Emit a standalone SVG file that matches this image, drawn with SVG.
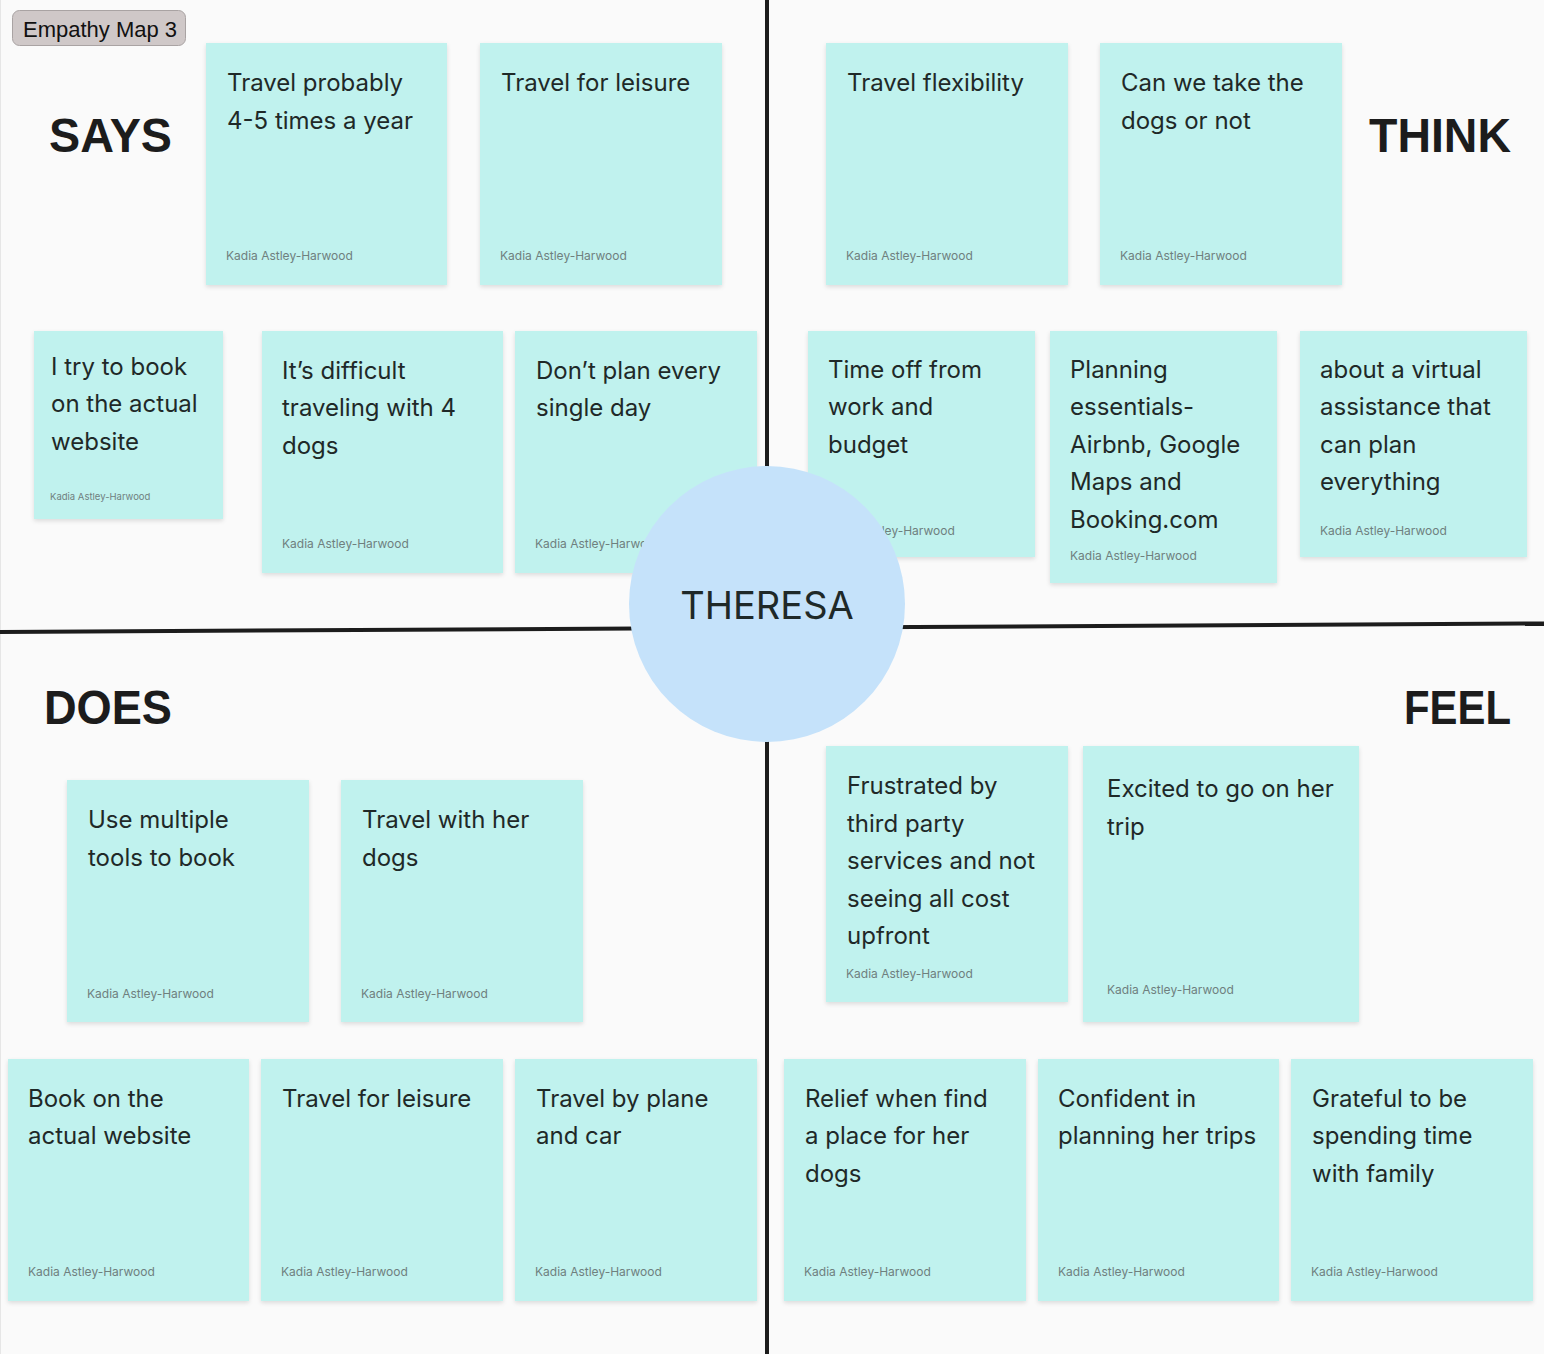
<svg xmlns="http://www.w3.org/2000/svg" width="1544" height="1354" viewBox="0 0 1544 1354">
<style>
.bg{fill:#fafafa}
.note{fill:#c0f2ee;filter:url(#sh)}
.t{font-family:Inter,"Noto Sans",sans-serif;font-size:24px;fill:#1f2928}
.a{font-family:Inter,"Noto Sans",sans-serif;font-size:12px;fill:#6f807e}
.as{font-family:Inter,"Noto Sans",sans-serif;font-size:9.5px;fill:#6f807e}
.h{font-family:"Liberation Sans",Arial,sans-serif;font-size:48px;font-weight:bold;fill:#1c1c1c}
.ln{stroke:#1c1c1c;stroke-width:4;fill:none}
</style>
<defs>
<filter id="sh" x="-5%" y="-5%" width="110%" height="115%">
<feDropShadow dx="0" dy="2" stdDeviation="2" flood-color="#000" flood-opacity="0.12"/>
</filter>
</defs>
<rect class="bg" x="0" y="0" width="1544" height="1354"/>
<line x1="0.5" y1="0" x2="0.5" y2="1354" stroke="#e6e6e6" stroke-width="1"/>
<g id="connectors">
<line class="ln" x1="767" y1="0" x2="767" y2="1354"/>
<line class="ln" x1="0" y1="632" x2="1544" y2="623.5"/>
</g>
<g id="frame-label">
<rect x="12.5" y="10.5" width="173" height="35" rx="7" fill="#cfc8c8" stroke="#a9a3a3"/>
<text x="23" y="37" font-family="'Liberation Sans',Arial,sans-serif" font-size="22" fill="#111">Empathy Map 3</text>
</g>
<g id="label-says"><text class="h" x="49" y="152" textLength="123" lengthAdjust="spacingAndGlyphs">SAYS</text></g>
<g id="label-think"><text class="h" x="1369" y="152" textLength="142" lengthAdjust="spacingAndGlyphs">THINK</text></g>
<g id="label-does"><text class="h" x="44" y="724" textLength="128" lengthAdjust="spacingAndGlyphs">DOES</text></g>
<g id="label-feel"><text class="h" x="1404" y="724" textLength="107" lengthAdjust="spacingAndGlyphs">FEEL</text></g>

<g id="note1"><rect class="note" x="206" y="43" width="241" height="242"/>
<text class="t" x="227" y="91">Travel probably</text><text class="t" x="227" y="129">4-5 times a year</text>
<text class="a" x="226" y="260">Kadia Astley-Harwood</text></g>
<g id="note2"><rect class="note" x="480" y="43" width="242" height="242"/>
<text class="t" x="501" y="91">Travel for leisure</text>
<text class="a" x="500" y="260">Kadia Astley-Harwood</text></g>
<g id="note3"><rect class="note" x="34" y="331" width="189" height="188"/>
<text class="t" x="51" y="375">I try to book</text><text class="t" x="51" y="412">on the actual</text><text class="t" x="51" y="450">website</text>
<text class="as" x="50" y="500">Kadia Astley-Harwood</text></g>
<g id="note4"><rect class="note" x="262" y="331" width="241" height="242"/>
<text class="t" x="282" y="379">It’s difficult</text><text class="t" x="282" y="416">traveling with 4</text><text class="t" x="282" y="454">dogs</text>
<text class="a" x="282" y="548">Kadia Astley-Harwood</text></g>
<g id="note5"><rect class="note" x="515" y="331" width="242" height="242"/>
<text class="t" x="536" y="379">Don’t plan every</text><text class="t" x="536" y="416">single day</text>
<text class="a" x="535" y="548">Kadia Astley-Harwood</text></g>

<g id="note6"><rect class="note" x="826" y="43" width="242" height="242"/>
<text class="t" x="847" y="91">Travel flexibility</text>
<text class="a" x="846" y="260">Kadia Astley-Harwood</text></g>
<g id="note7"><rect class="note" x="1100" y="43" width="242" height="242"/>
<text class="t" x="1121" y="91">Can we take the</text><text class="t" x="1121" y="129">dogs or not</text>
<text class="a" x="1120" y="260">Kadia Astley-Harwood</text></g>
<g id="note8"><rect class="note" x="808" y="331" width="227" height="226"/>
<text class="t" x="828" y="378">Time off from</text><text class="t" x="828" y="415">work and</text><text class="t" x="828" y="453">budget</text>
<text class="a" x="828" y="535">Kadia Astley-Harwood</text></g>
<g id="note9"><rect class="note" x="1050" y="331" width="227" height="252"/>
<text class="t" x="1070" y="378">Planning</text><text class="t" x="1070" y="415">essentials-</text><text class="t" x="1070" y="453">Airbnb, Google</text><text class="t" x="1070" y="490">Maps and</text><text class="t" x="1070" y="528">Booking.com</text>
<text class="a" x="1070" y="560">Kadia Astley-Harwood</text></g>
<g id="note10"><rect class="note" x="1300" y="331" width="227" height="226"/>
<text class="t" x="1320" y="378">about a virtual</text><text class="t" x="1320" y="415">assistance that</text><text class="t" x="1320" y="453">can plan</text><text class="t" x="1320" y="490">everything</text>
<text class="a" x="1320" y="535">Kadia Astley-Harwood</text></g>

<g id="note11"><rect class="note" x="67" y="780" width="242" height="242"/>
<text class="t" x="88" y="828">Use multiple</text><text class="t" x="88" y="866">tools to book</text>
<text class="a" x="87" y="998">Kadia Astley-Harwood</text></g>
<g id="note12"><rect class="note" x="341" y="780" width="242" height="242"/>
<text class="t" x="362" y="828">Travel with her</text><text class="t" x="362" y="866">dogs</text>
<text class="a" x="361" y="998">Kadia Astley-Harwood</text></g>
<g id="note13"><rect class="note" x="8" y="1059" width="241" height="242"/>
<text class="t" x="28" y="1107">Book on the</text><text class="t" x="28" y="1144">actual website</text>
<text class="a" x="28" y="1276">Kadia Astley-Harwood</text></g>
<g id="note14"><rect class="note" x="261" y="1059" width="242" height="242"/>
<text class="t" x="282" y="1107">Travel for leisure</text>
<text class="a" x="281" y="1276">Kadia Astley-Harwood</text></g>
<g id="note15"><rect class="note" x="515" y="1059" width="242" height="242"/>
<text class="t" x="536" y="1107">Travel by plane</text><text class="t" x="536" y="1144">and car</text>
<text class="a" x="535" y="1276">Kadia Astley-Harwood</text></g>

<g id="note16"><rect class="note" x="826" y="746" width="242" height="256"/>
<text class="t" x="847" y="794">Frustrated by</text><text class="t" x="847" y="832">third party</text><text class="t" x="847" y="869">services and not</text><text class="t" x="847" y="907">seeing all cost</text><text class="t" x="847" y="944">upfront</text>
<text class="a" x="846" y="978">Kadia Astley-Harwood</text></g>
<g id="note17"><rect class="note" x="1083" y="746" width="276" height="276"/>
<text class="t" x="1107" y="797">Excited to go on her</text><text class="t" x="1107" y="835">trip</text>
<text class="a" x="1107" y="994">Kadia Astley-Harwood</text></g>
<g id="note18"><rect class="note" x="784" y="1059" width="242" height="242"/>
<text class="t" x="805" y="1107">Relief when find</text><text class="t" x="805" y="1144">a place for her</text><text class="t" x="805" y="1182">dogs</text>
<text class="a" x="804" y="1276">Kadia Astley-Harwood</text></g>
<g id="note19"><rect class="note" x="1038" y="1059" width="241" height="242"/>
<text class="t" x="1058" y="1107">Confident in</text><text class="t" x="1058" y="1144">planning her trips</text>
<text class="a" x="1058" y="1276">Kadia Astley-Harwood</text></g>
<g id="note20"><rect class="note" x="1291" y="1059" width="242" height="242"/>
<text class="t" x="1312" y="1107">Grateful to be</text><text class="t" x="1312" y="1144">spending time</text><text class="t" x="1312" y="1182">with family</text>
<text class="a" x="1311" y="1276">Kadia Astley-Harwood</text></g>

<g id="center">
<circle cx="767" cy="604" r="138" fill="#c5e2fa"/>
<text x="767" y="619" text-anchor="middle" font-family="Inter,'Noto Sans',sans-serif" font-size="38" fill="#1f2928">THERESA</text>
</g>
</svg>
